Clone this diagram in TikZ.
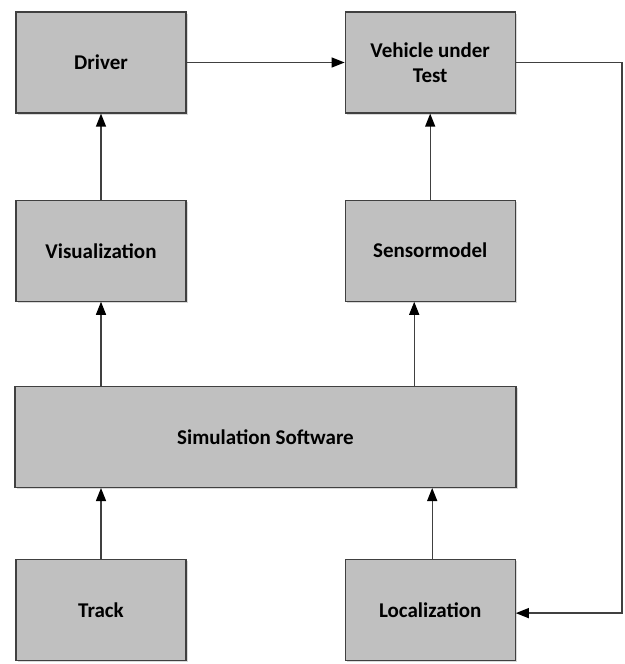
\documentclass[tikz,border=0pt]{standalone}
\usepackage{fontspec}
\setmainfont{Carlito}
\usetikzlibrary{arrows.meta}
\usetikzlibrary{positioning}
\usetikzlibrary{shadows}

\definecolor{boxfill}{RGB}{192,192,192}
\definecolor{boxline}{RGB}{64,64,64}
\definecolor{linkgray}{RGB}{64,64,64}

\begin{document}
\begin{tikzpicture}[
    x=1pt, y=1pt,
    node distance=86pt and 158pt,
    >={Triangle[length=13pt, width=10pt, black]},
    every node/.style={font=\bfseries\fontsize{21}{25}\selectfont},
    block/.style={rectangle, draw=boxline, fill=boxfill, line width=1.2pt, align=center,
        minimum width=170pt, minimum height=101pt,
        drop shadow={shadow xshift=1.5pt, shadow yshift=-1.5pt, opacity=0.3}},
    link/.style={draw=linkgray, line width=1.3pt}
]
\useasboundingbox (0,0) rectangle (624,-664);

% Nodes
\node[block] (driver) at (101,-62.5) {Driver};
\node[block, right=of driver] (vehicle) {Vehicle under\\Test};
\node[block, below=of driver] (visual) {Visualization};
\node[block, below=of vehicle] (sensor) {Sensormodel};
\node[block, minimum width=501pt, below=84pt of visual.south west, anchor=north west, xshift=-1pt] (sim) {Simulation Software};
\node[block, below=71pt of sim.south west, anchor=north west, xshift=1pt] (track) {Track};
\node[block, right=of track] (local) {Localization};
\coordinate[right=106.3pt of vehicle.east] (rim);

% Edges
\draw[->, link] (driver) -- (vehicle);
\draw[->, link] (visual) -- (driver);
\draw[->, link] (sensor) -- (vehicle);
\draw[->, link] (sim.north -| visual) -- (visual);
\draw[->, link] ([xshift=-16pt]sensor.south |- sim.north) -- ([xshift=-16pt]sensor.south);
\draw[->, link] (track) -- (track |- sim.south);
\draw[->, link] ([xshift=2pt]local.north) -- ([xshift=2pt]local.north |- sim.south);
\draw[->, link] (vehicle) -- (rim) |- ([yshift=-3pt]local.east);

\end{tikzpicture}
\end{document}
